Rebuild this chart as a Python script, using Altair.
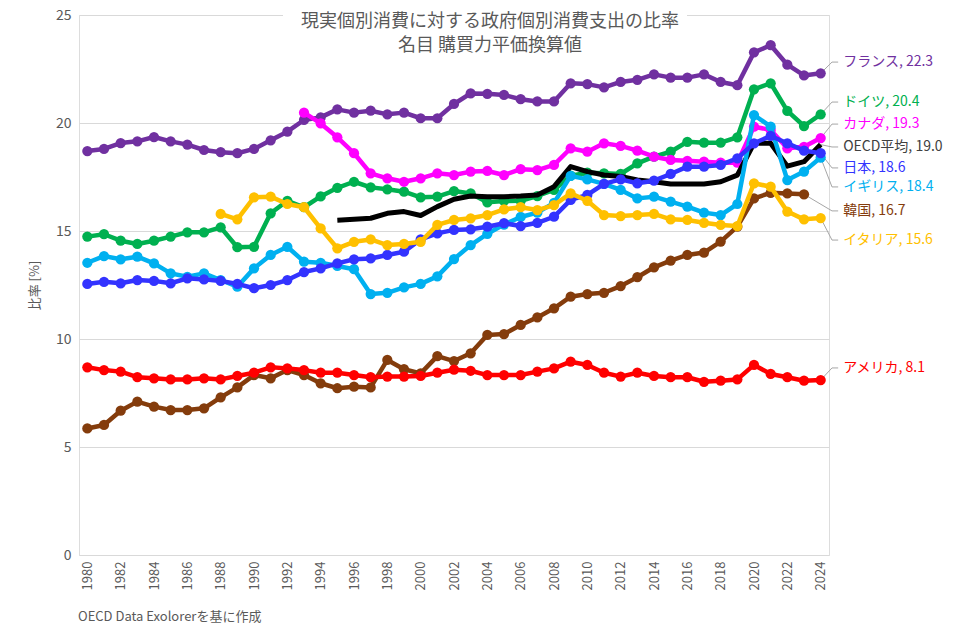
import altair as alt
import pandas as pd

# ---------------- data ----------------
countries = ["フランス", "ドイツ", "カナダ", "OECD平均", "イギリス", "日本", "韓国", "イタリア", "アメリカ"]
start_years = [1980, 1980, 1993, 1995, 1980, 1980, 1980, 1988, 1980]

france = [18.7, 18.8, 19.07, 19.15, 19.35, 19.15, 19.0, 18.75, 18.65, 18.6,
          18.8, 19.2, 19.6, 20.14, 20.26, 20.63, 20.48, 20.57, 20.4, 20.48,
          20.22, 20.22, 20.88, 21.37, 21.35, 21.3, 21.1, 21.0, 21.0, 21.84,
          21.8, 21.65, 21.9, 22.0, 22.25, 22.1, 22.1, 22.25, 21.9, 21.75,
          23.27, 23.6, 22.7, 22.2, 22.3]
germany = [14.74, 14.85, 14.55, 14.4, 14.55, 14.74, 14.94, 14.94, 15.17, 14.25,
           14.27, 15.82, 16.4, 16.1, 16.6, 17.0, 17.28, 17.02, 16.93, 16.82,
           16.56, 16.59, 16.85, 16.74, 16.33, 16.39, 16.4, 16.62, 16.9, 17.56,
           17.7, 17.67, 17.64, 18.13, 18.44, 18.67, 19.13, 19.09, 19.09, 19.34,
           21.56, 21.84, 20.56, 19.86, 20.4]
canada = [20.48, 19.98, 19.34, 18.6, 17.67, 17.44, 17.28,
          17.44, 17.67, 17.59, 17.75, 17.78, 17.59, 17.86, 17.82, 18.06, 18.83,
          18.67, 19.06, 18.94, 18.72, 18.44, 18.29, 18.25, 18.21, 18.16, 18.16,
          19.83, 19.68, 18.83, 18.9, 19.3]
oecd = [15.5, 15.54, 15.59, 15.82, 15.9,
        15.72, 16.13, 16.47, 16.62, 16.59, 16.59, 16.62, 16.67, 17.05, 17.98,
        17.75, 17.59, 17.52, 17.36, 17.28, 17.18, 17.18, 17.18, 17.28, 17.59,
        19.06, 19.06, 18.0, 18.21, 19.0]
uk = [13.53, 13.84, 13.69, 13.81, 13.5, 13.04, 12.88, 13.04, 12.73, 12.42,
      13.27, 13.89, 14.27, 13.58, 13.53, 13.38, 13.23, 12.08, 12.14, 12.39,
      12.55, 12.9, 13.7, 14.35, 14.87, 15.3, 15.65, 15.85, 16.3, 17.55,
      17.39, 17.18, 16.9, 16.51, 16.59, 16.36, 16.13, 15.85, 15.74, 16.25,
      20.37, 19.83, 17.36, 17.75, 18.4]
japan = [12.55, 12.65, 12.58, 12.73, 12.69, 12.58, 12.81, 12.76, 12.69, 12.55,
         12.35, 12.5, 12.73, 13.1, 13.27, 13.5, 13.69, 13.73, 13.89, 14.04,
         14.61, 14.89, 15.05, 15.08, 15.2, 15.36, 15.23, 15.38, 15.66, 16.44,
         16.67, 17.18, 17.39, 17.21, 17.33, 17.64, 17.98, 17.98, 18.06, 18.36,
         19.06, 19.4, 19.06, 18.72, 18.6]
korea = [5.86, 6.02, 6.68, 7.1, 6.87, 6.71, 6.71, 6.79, 7.3, 7.76,
         8.33, 8.18, 8.56, 8.33, 7.95, 7.72, 7.79, 7.76, 9.03, 8.6,
         8.41, 9.21, 8.98, 9.34, 10.19, 10.23, 10.65, 11.0, 11.42, 11.96,
         12.08, 12.14, 12.45, 12.86, 13.32, 13.63, 13.89, 14.0, 14.51, 15.2,
         16.51, 16.77, 16.74, 16.7]
italy = [15.79, 15.54,
         16.56, 16.59, 16.25, 16.1, 15.12, 14.2, 14.5, 14.61, 14.35, 14.4,
         14.5, 15.28, 15.51, 15.59, 15.74, 16.0, 16.1, 15.97, 16.2, 16.74,
         16.4, 15.74, 15.69, 15.74, 15.79, 15.54, 15.51, 15.38, 15.28, 15.23,
         17.21, 17.05, 15.9, 15.54, 15.6]
usa = [8.69, 8.56, 8.49, 8.23, 8.18, 8.13, 8.13, 8.18, 8.13, 8.29,
       8.44, 8.69, 8.64, 8.56, 8.44, 8.44, 8.33, 8.23, 8.26, 8.26,
       8.29, 8.44, 8.58, 8.53, 8.33, 8.33, 8.33, 8.49, 8.64, 8.95,
       8.8, 8.44, 8.26, 8.44, 8.29, 8.23, 8.23, 8.02, 8.07, 8.13,
       8.8, 8.38, 8.23, 8.07, 8.1]

series_values = [france, germany, canada, oecd, uk, japan, korea, italy, usa]
label_texts = ["フランス, 22.3", "ドイツ, 20.4", "カナダ, 19.3", "OECD平均, 19.0",
               "イギリス, 18.4", "日本, 18.6", "韓国, 16.7", "イタリア, 15.6", "アメリカ, 8.1"]
x_tick_values = list(range(1980, 2025, 2))
y_tick_values = [0, 5, 10, 15, 20, 25]

# ---------------- style / layout ----------------
colors = ["#7030a0", "#00b050", "#ff00ff", "#000000", "#00b0f0", "#3333ff", "#843c0c", "#ffc000", "#ff0000"]
label_colors = ["#7030a0", "#00b050", "#ff00ff", "#404040", "#00b0f0", "#3333ff", "#843c0c", "#ffc000", "#ff0000"]
# label vertical placement (in data units) to avoid overlaps
label_y = [22.82, 20.97, 19.95, 18.89, 17.04, 17.92, 15.93, 14.58, 8.66]
has_points = [True, True, True, False, True, True, True, True, True]

FONT = "Noto Sans CJK JP"
GRAY = "#595959"
W, H = 750, 540

x_scale = alt.Scale(domain=[1979.5, 2024.5], nice=False, zero=False)
y_scale = alt.Scale(domain=[0, 25], nice=False)

x_axis = alt.Axis(values=x_tick_values, format="d", labelAngle=270, grid=False, ticks=False,
                  domain=False, labelColor=GRAY, labelFontSize=13, labelPadding=6,
                  labelFont=FONT, title=None)
y_axis = alt.Axis(values=y_tick_values, grid=True, gridColor="#d9d9d9", gridWidth=1,
                  domain=False, ticks=False, labelColor=GRAY, labelFontSize=14,
                  labelPadding=8, labelFont=FONT, title="比率 [%]", titleColor=GRAY,
                  titleFontSize=13, titleFontWeight="normal", titleFont=FONT, titlePadding=14)

one = pd.DataFrame({"k": [0]})
layers = []

all_rows = []
for name, sy, vals in zip(countries, start_years, series_values):
    for i, v in enumerate(vals):
        all_rows.append({"country": name, "year": sy + i, "value": v})
df_all = pd.DataFrame(all_rows)

# invisible carrier for the axes
layers.append(alt.Chart(df_all).mark_point(opacity=0).encode(
    x=alt.X("year:Q", scale=x_scale, axis=x_axis),
    y=alt.Y("value:Q", scale=y_scale, axis=y_axis),
))

# white strip behind title (hides the top gridline under the title)
layers.append(alt.Chart(one).mark_rect(color="white").encode(
    x=alt.value(204), x2=alt.value(608), y=alt.value(-4), y2=alt.value(5)))

# leader lines
leader_rows = []
for name, sy, vals, ly in zip(countries, start_years, series_values, label_y):
    last_year = sy + len(vals) - 1
    leader_rows.append({"country": name, "k": 0, "year": last_year, "value": vals[-1]})
    leader_rows.append({"country": name, "k": 1, "year": 2024.68, "value": ly})
    leader_rows.append({"country": name, "k": 2, "year": 2025.05, "value": ly})
df_leader = pd.DataFrame(leader_rows)
layers.append(alt.Chart(df_leader).mark_line(color="#a6a6a6", strokeWidth=1).encode(
    x=alt.X("year:Q", scale=x_scale, axis=x_axis),
    y=alt.Y("value:Q", scale=y_scale, axis=y_axis),
    detail="country:N",
    order="k:Q",
))

# series
for name, sy, vals, col, pts in zip(countries, start_years, series_values, colors, has_points):
    d = pd.DataFrame({"year": list(range(sy, sy + len(vals))), "value": vals})
    enc = dict(x=alt.X("year:Q", scale=x_scale, axis=x_axis),
               y=alt.Y("value:Q", scale=y_scale, axis=y_axis))
    layers.append(alt.Chart(d).mark_line(color=col, strokeWidth=4.5 if pts else 5,
                                         strokeJoin="round").encode(**enc))
    if pts:
        layers.append(alt.Chart(d).mark_circle(color=col, size=105, opacity=1).encode(**enc))

# end labels
df_labels = pd.DataFrame({"label": label_texts, "value": label_y,
                          "year": [2025.35] * len(label_texts), "country": countries})
layers.append(alt.Chart(df_labels).mark_text(align="left", baseline="middle", fontSize=14,
                                             font=FONT).encode(
    x=alt.X("year:Q", scale=x_scale, axis=x_axis),
    y=alt.Y("value:Q", scale=y_scale, axis=y_axis),
    text="label:N",
    color=alt.Color("country:N", scale=alt.Scale(domain=countries, range=label_colors), legend=None),
))

# title lines and source note
title1 = "現実個別消費に対する政府個別消費支出の比率"
title2 = "名目 購買力平価換算値"
source = "OECD Data Exolorerを基に作成"
layers.append(alt.Chart(one).mark_text(text=title1, fontSize=18, color=GRAY, font=FONT,
                                       align="center", baseline="middle").encode(
    x=alt.value(411), y=alt.value(7)))
layers.append(alt.Chart(one).mark_text(text=title2, fontSize=18, color=GRAY, font=FONT,
                                       align="center", baseline="middle").encode(
    x=alt.value(411), y=alt.value(31)))
layers.append(alt.Chart(one).mark_text(text=source, fontSize=13, color=GRAY, font=FONT,
                                       align="left", baseline="middle").encode(
    x=alt.value(-1), y=alt.value(602)))

chart = alt.layer(*layers).properties(
    width=W, height=H,
    autosize=alt.AutoSizeParams(type="none"),
    padding={"left": 79, "top": 15, "right": 146, "bottom": 82},
).configure_view(stroke=None).configure(background="white")

chart.save("out.html", embed_options={"renderer": "svg", "actions": False})
